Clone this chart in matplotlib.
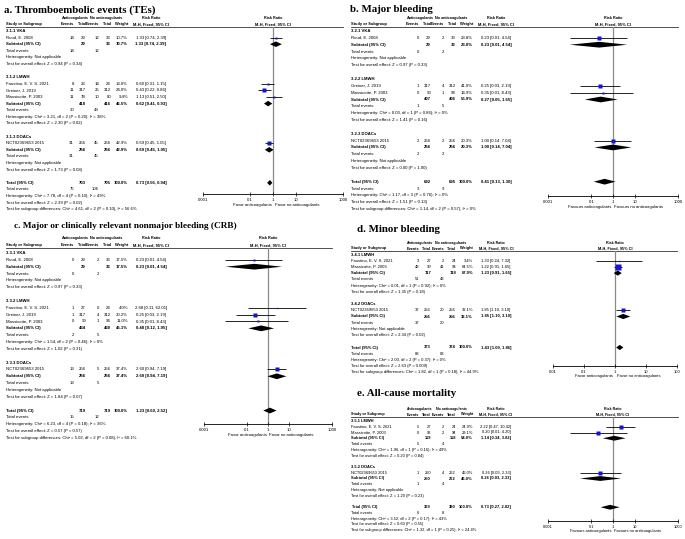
import numpy as np
import matplotlib
matplotlib.use("Agg")
import matplotlib.pyplot as plt

plt.rcParams['font.family'] = ['Liberation Sans', 'DejaVu Sans']

# ---- data: a. thromboembolic events ----
A_GROUPS = ["3.1.1 VKA", "3.1.2 LMWH", "3.1.3 DOACs"]
A_STUDIES = [
    [("Ruud, E. 2008", 14, 29, 12, 33, 10.7, 1.33, 0.74, 2.39)],
    [("Faustino, E. V. S. 2021", 8, 23, 14, 24, 13.0, 0.60, 0.31, 1.15),
     ("Greiner, J. 2019", 11, 317, 25, 312, 24.0, 0.43, 0.22, 0.86),
     ("Massicotte, P. 2003", 11, 78, 10, 80, 9.4, 1.13, 0.51, 2.50)],
    [("NCT02369653 2015", 31, 256, 45, 256, 42.9, 0.69, 0.45, 1.05)],
]
A_SUBTOTALS = [(29, 33, 10.7, 1.33, 0.74, 2.39), (418, 416, 46.5, 0.62, 0.41, 0.93),
               (256, 256, 42.9, 0.69, 0.45, 1.05)]
A_EVENTS = [(14, 12), (30, 49), (31, 45)]
A_HETERO = ["Not applicable", "Chi² = 3.21, df = 2 (P = 0.20); I² = 38%", "Not applicable"]
A_ZTEST = ["Z = 0.94 (P = 0.34)", "Z = 2.30 (P = 0.02)", "Z = 1.73 (P = 0.08)"]
A_OVERALL = (703, 705, 100.0, 0.73, 0.56, 0.94)
A_OVERALL_EVENTS = (75, 106)
A_OVERALL_TEXT = ["Chi² = 7.78, df = 4 (P = 0.10); I² = 49%", "Z = 2.39 (P = 0.02)",
                  "Chi² = 4.61, df = 2 (P = 0.10), I² = 56.6%"]

# ---- data: b. major bleeding ----
B_GROUPS = ["3.2.1 VKA", "3.2.2 LMWH", "3.2.3 DOACs"]
B_STUDIES = [
    [("Ruud, E. 2008", 0, 29, 2, 33, 23.8, 0.23, 0.01, 4.54)],
    [("Greiner, J. 2019", 1, 317, 4, 312, 41.0, 0.25, 0.03, 2.19),
     ("Massicotte, P. 2003", 0, 90, 1, 94, 14.9, 0.35, 0.01, 8.43)],
    [("NCT02369653 2015", 2, 256, 2, 256, 20.3, 1.00, 0.14, 7.04)],
]
B_SUBTOTALS = [(29, 33, 23.8, 0.23, 0.01, 4.54), (407, 406, 55.9, 0.27, 0.05, 1.65),
               (256, 256, 20.3, 1.00, 0.14, 7.04)]
B_EVENTS = [(0, 2), (1, 5), (2, 2)]
B_HETERO = ["Not applicable", "Chi² = 0.03, df = 1 (P = 0.86); I² = 0%", "Not applicable"]
B_ZTEST = ["Z = 0.97 (P = 0.33)", "Z = 1.41 (P = 0.16)", "Z = 0.00 (P = 1.00)"]
B_OVERALL = (692, 695, 100.0, 0.41, 0.13, 1.30)
B_OVERALL_EVENTS = (3, 9)
B_OVERALL_TEXT = ["Chi² = 1.17, df = 3 (P = 0.76); I² = 0%", "Z = 1.51 (P = 0.13)",
                  "Chi² = 1.14, df = 2 (P = 0.57), I² = 0%"]

# ---- data: c. CRB ----
C_GROUPS = ["3.3.1 VKA", "3.3.2 LMWH", "3.3.3 DOACs"]
C_STUDIES = [
    [("Ruud, E. 2008", 0, 29, 2, 33, 17.5, 0.23, 0.01, 4.54)],
    [("Faustino, E. V. S. 2021", 1, 27, 0, 24, 4.0, 2.68, 0.11, 62.01),
     ("Greiner, J. 2019", 1, 317, 4, 312, 30.2, 0.25, 0.03, 2.19),
     ("Massicotte, P. 2003", 0, 90, 1, 94, 11.0, 0.35, 0.01, 8.43)],
    [("NCT02369653 2015", 13, 256, 5, 256, 37.4, 2.60, 0.94, 7.19)],
]
C_SUBTOTALS = [(29, 33, 17.5, 0.23, 0.01, 4.54), (434, 430, 45.1, 0.48, 0.12, 1.95),
               (256, 256, 37.4, 2.60, 0.94, 7.19)]
C_EVENTS = [(0, 2), (2, 5), (13, 5)]
C_HETERO = ["Not applicable", "Chi² = 1.54, df = 2 (P = 0.46); I² = 0%", "Not applicable"]
C_ZTEST = ["Z = 0.97 (P = 0.33)", "Z = 1.02 (P = 0.31)", "Z = 1.84 (P = 0.07)"]
C_OVERALL = (719, 719, 100.0, 1.23, 0.60, 2.52)
C_OVERALL_EVENTS = (15, 12)
C_OVERALL_TEXT = ["Chi² = 6.23, df = 4 (P = 0.18); I² = 36%", "Z = 0.57 (P = 0.57)",
                  "Chi² = 5.02, df = 2 (P = 0.08), I² = 60.1%"]

# ---- data: d. minor bleeding ----
D_GROUPS = ["3.4.1 LMWH", "3.4.2 DOACs"]
D_STUDIES = [
    [("Faustino, E. V. S. 2021", 3, 27, 2, 24, 3.4, 1.33, 0.24, 7.32),
     ("Massicotte, P. 2003", 48, 90, 41, 94, 64.5, 1.22, 0.91, 1.65)],
    [("NCT02369653 2015", 37, 256, 20, 256, 32.1, 1.85, 1.10, 3.10)],
]
D_SUBTOTALS = [(117, 118, 67.9, 1.23, 0.91, 1.65), (256, 256, 32.1, 1.85, 1.10, 3.10)]
D_EVENTS = [(51, 43), (37, 20)]
D_HETERO = ["Chi² = 0.01, df = 1 (P = 0.92); I² = 0%", "Not applicable"]
D_ZTEST = ["Z = 1.35 (P = 0.18)", "Z = 2.34 (P = 0.02)"]
D_OVERALL = (373, 374, 100.0, 1.43, 1.09, 1.86)
D_OVERALL_EVENTS = (88, 63)
D_OVERALL_TEXT = ["Chi² = 2.00, df = 2 (P = 0.37); I² = 0%", "Z = 2.63 (P = 0.009)",
                  "Chi² = 1.82, df = 1 (P = 0.18), I² = 44.9%"]

# ---- data: e. all-cause mortality ----
E_GROUPS = ["3.5.1 LMWH", "3.5.2 DOACs"]
E_STUDIES = [
    [("Faustino, E. V. S. 2021", 5, 27, 2, 24, 24.9, 2.22, 0.47, 10.42),
     ("Massicotte, P. 2003", 0, 92, 2, 94, 29.1, 0.20, 0.01, 4.20)],
    [("NCT02369653 2015", 1, 250, 4, 262, 46.0, 0.26, 0.03, 2.33)],
]
E_SUBTOTALS = [(119, 118, 54.0, 1.14, 0.34, 3.82), (250, 262, 46.0, 0.26, 0.03, 2.33)]
E_EVENTS = [(5, 4), (1, 4)]
E_HETERO = ["Chi² = 1.96, df = 1 (P = 0.16); I² = 49%", "Not applicable"]
E_ZTEST = ["Z = 0.20 (P = 0.84)", "Z = 1.20 (P = 0.23)"]
E_OVERALL = (369, 380, 100.0, 0.73, 0.27, 2.02)
E_OVERALL_EVENTS = (6, 8)
E_OVERALL_TEXT = ["Chi² = 3.52, df = 2 (P = 0.17); I² = 43%", "Z = 0.60 (P = 0.55)",
                  "Chi² = 1.32, df = 1 (P = 0.25), I² = 24.4%"]

TICKS_WIDE = [0.001, 0.1, 1, 10, 1000]
TICKS_NARROW = [0.01, 0.1, 1, 10, 100]

W, H = 685, 539
fig = plt.figure(figsize=(6.85, 5.39), dpi=100)
bg = fig.add_axes([0, 0, 1, 1])
bg.set_xlim(0, W)
bg.set_ylim(H, 0)
bg.axis('off')

BLUE = '#1414d2'


def box(x0, x1, y0, y1):
    return [x0 / W, 1 - y1 / H, (x1 - x0) / W, (y1 - y0) / H]


def draw_panel(s, groups, studies, subtotals, events, hetero, ztest,
               overall, overall_events, overall_text):
    x0 = s['x0']
    fs = s['fs']
    # column positions inside the panel
    c_study, c_e1, c_n1, c_e2, c_n2, c_w, c_rr = x0 + 6, x0 + 74, x0 + 86, x0 + 99, x0 + 111, x0 + 128, x0 + 151
    px0, px1 = s['plot']
    pmid = (px0 + px1) / 2

    bg.text(x0 + s['title_dx'], s['title_y'], s['title'], family=['Liberation Serif'], weight='bold',
            fontsize=s['title_fs'], va='center', ha='left')

    # headers
    h1, h2 = s['hdr1_y'], s['hdr2_y']
    kw1 = dict(fontsize=fs * 0.88, va='center', weight='bold')
    kw2 = dict(fontsize=fs * 0.92, va='center', weight='bold')
    bg.text(x0 + 75, h1, "Anticoagulants", ha='center', **kw1)
    bg.text(x0 + 106, h1, "No anticoagulants", ha='center', **kw1)
    bg.text(c_rr, h1, "Risk Ratio", ha='center', **kw1)
    bg.text(pmid, h1, "Risk Ratio", ha='center', **kw1)
    bg.text(c_study, h2, "Study or Subgroup", ha='left', **kw2)
    bg.text(c_e1, h2, "Events", ha='right', **kw2)
    bg.text(c_n1, h2, "Total", ha='right', **kw2)
    bg.text(c_e2, h2, "Events", ha='right', **kw2)
    bg.text(c_n2, h2, "Total", ha='right', **kw2)
    bg.text(c_w, h2, "Weight", ha='right', **kw2)
    bg.text(c_rr, h2, "M-H, Fixed, 95% CI", ha='center', **kw2)
    bg.text(pmid, h2, "M-H, Fixed, 95% CI", ha='center', **kw2)
    bg.plot([c_study, px1], [s['line_y'], s['line_y']], color='#333333', lw=0.6)

    # forest axes
    ax = fig.add_axes(box(px0, px1, s['line_y'], s['axis_y']))
    ax.set_xscale('log')
    ax.set_xlim(s['lim'])
    ax.set_ylim(s['axis_y'], s['line_y'])
    ax.patch.set_alpha(0)
    for sp in ['top', 'left', 'right']:
        ax.spines[sp].set_visible(False)
    ax.spines['bottom'].set_linewidth(0.6)
    ax.set_yticks([])
    ax.set_xticks(s['ticks'], [f"{t:g}" for t in s['ticks']])
    ax.minorticks_off()
    ax.tick_params(axis='x', direction='inout', length=3, width=0.5, pad=1.2, labelsize=fs)
    ax.axvline(1, color='#8a8a8a', lw=0.9, zorder=1)
    hpx = s['axis_y'] - s['line_y']
    fy = -(s['fav_dy'] / hpx)
    ax.text(0.86, fy, s['fav'] + " anticoagulants", transform=ax.get_xaxis_transform(),
            ha='right', va='center', fontsize=fs)
    ax.text(1.16, fy, s['fav'] + " no anticoagulants", transform=ax.get_xaxis_transform(),
            ha='left', va='center', fontsize=fs)

    dh = s['step'] * 0.42

    def diamond(y, rr, lo, hi):
        ax.fill([lo, rr, hi, rr], [y, y - dh, y, y + dh], color='black', lw=0, zorder=3)

    def ypos(r):
        return s['row1'] + r * s['step']

    def rr_text(rr, lo, hi):
        return f"{rr:.2f} [{lo:.2f}, {hi:.2f}]"

    row = 0
    for g, name in enumerate(groups):
        bg.text(c_study, ypos(row), name, ha='left', va='center', fontsize=fs, weight='bold')
        row += 1
        for st, e1, n1, e2, n2, w, rr, lo, hi in studies[g]:
            y = ypos(row)
            bg.text(c_study, y, st, ha='left', va='center', fontsize=fs)
            bg.text(c_e1, y, str(e1), ha='right', va='center', fontsize=fs)
            bg.text(c_n1, y, str(n1), ha='right', va='center', fontsize=fs)
            bg.text(c_e2, y, str(e2), ha='right', va='center', fontsize=fs)
            bg.text(c_n2, y, str(n2), ha='right', va='center', fontsize=fs)
            bg.text(c_w, y, f"{w:.1f}%", ha='right', va='center', fontsize=fs)
            bg.text(c_rr, y, rr_text(rr, lo, hi), ha='center', va='center', fontsize=fs)
            ax.plot([lo, hi], [y, y], color='black', lw=0.6, zorder=2, solid_capstyle='butt')
            side = max(1.4, 7.0 * np.sqrt(w / 100.0))
            ax.plot([rr], [y], marker='s', ms=side * 0.72, color=BLUE, mec='none', zorder=4)
            row += 1
        n1, n2, w, rr, lo, hi = subtotals[g]
        y = ypos(row)
        bk = dict(ha='right', va='center', fontsize=fs, weight='bold')
        bg.text(c_study, y, "Subtotal (95% CI)", ha='left', va='center', fontsize=fs, weight='bold')
        bg.text(c_n1, y, str(n1), **bk)
        bg.text(c_n2, y, str(n2), **bk)
        bg.text(c_w, y, f"{w:.1f}%", **bk)
        bg.text(c_rr, y, rr_text(rr, lo, hi), ha='center', va='center', fontsize=fs, weight='bold')
        diamond(y, rr, lo, hi)
        row += 1
        y = ypos(row)
        bg.text(c_study, y, "Total events", ha='left', va='center', fontsize=fs)
        bg.text(c_e1, y, str(events[g][0]), ha='right', va='center', fontsize=fs)
        bg.text(c_e2, y, str(events[g][1]), ha='right', va='center', fontsize=fs)
        row += 1
        bg.text(c_study, ypos(row), "Heterogeneity: " + hetero[g], ha='left', va='center', fontsize=fs)
        row += 1
        bg.text(c_study, ypos(row), "Test for overall effect: " + ztest[g], ha='left', va='center', fontsize=fs)
        row += 2

    n1, n2, w, rr, lo, hi = overall
    y = ypos(row)
    bk = dict(ha='right', va='center', fontsize=fs, weight='bold')
    bg.text(c_study, y, "Total (95% CI)", ha='left', va='center', fontsize=fs, weight='bold')
    bg.text(c_n1, y, str(n1), **bk)
    bg.text(c_n2, y, str(n2), **bk)
    bg.text(c_w, y, f"{w:.1f}%", **bk)
    bg.text(c_rr, y, rr_text(rr, lo, hi), ha='center', va='center', fontsize=fs, weight='bold')
    diamond(y, rr, lo, hi)
    row += 1
    y = ypos(row)
    bg.text(c_study, y, "Total events", ha='left', va='center', fontsize=fs)
    bg.text(c_e1, y, str(overall_events[0]), ha='right', va='center', fontsize=fs)
    bg.text(c_e2, y, str(overall_events[1]), ha='right', va='center', fontsize=fs)
    row += 1
    labels = ["Heterogeneity: ", "Test for overall effect: ", "Test for subgroup differences: "]
    for lab, txt in zip(labels, overall_text):
        bg.text(c_study, ypos(row), lab + txt, ha='left', va='center', fontsize=fs)
        row += 1


SPEC_A = dict(x0=0, title="a. Thromboembolic events (TEs)", title_dx=4, title_fs=7.8, title_y=10,
              hdr1_y=18, hdr2_y=24, line_y=27, row1=31, step=6.6, plot=(203, 343), axis_y=194,
              lim=(0.001, 1000), ticks=TICKS_WIDE, fav="Favor", fav_dy=11, fs=3.1)
SPEC_B = dict(x0=345, title="b. Major bleeding", title_dx=5, title_fs=7.8, title_y=10,
              hdr1_y=18, hdr2_y=24, line_y=27, row1=31, step=6.85, plot=(548, 678), axis_y=196,
              lim=(0.001, 1000), ticks=TICKS_WIDE, fav="Favours", fav_dy=11, fs=3.1)
SPEC_C = dict(x0=0, title="c. Major or clinically relevant nonmajor bleeding (CRB)", title_dx=14,
              title_fs=6.7, title_y=226, hdr1_y=238, hdr2_y=245, line_y=248, row1=253, step=6.85,
              plot=(204, 332), axis_y=424, lim=(0.001, 1000), ticks=TICKS_WIDE, fav="Favor",
              fav_dy=11, fs=3.1)
SPEC_D = dict(x0=345, title="d. Minor bleeding", title_dx=12, title_fs=7.8, title_y=230,
              hdr1_y=243, hdr2_y=248.5, line_y=251, row1=254.5, step=6.2, plot=(553, 677),
              axis_y=366, lim=(0.01, 100), ticks=TICKS_NARROW, fav="Favor", fav_dy=10, fs=3.0)
SPEC_E = dict(x0=345, title="e. All-cause mortality", title_dx=12, title_fs=7.8, title_y=393,
              hdr1_y=409, hdr2_y=414.5, line_y=417, row1=421, step=5.75, plot=(548, 678),
              axis_y=521, lim=(0.001, 1000), ticks=TICKS_WIDE, fav="Favours", fav_dy=10, fs=2.9)

draw_panel(SPEC_A, A_GROUPS, A_STUDIES, A_SUBTOTALS, A_EVENTS, A_HETERO, A_ZTEST,
           A_OVERALL, A_OVERALL_EVENTS, A_OVERALL_TEXT)
draw_panel(SPEC_B, B_GROUPS, B_STUDIES, B_SUBTOTALS, B_EVENTS, B_HETERO, B_ZTEST,
           B_OVERALL, B_OVERALL_EVENTS, B_OVERALL_TEXT)
draw_panel(SPEC_C, C_GROUPS, C_STUDIES, C_SUBTOTALS, C_EVENTS, C_HETERO, C_ZTEST,
           C_OVERALL, C_OVERALL_EVENTS, C_OVERALL_TEXT)
draw_panel(SPEC_D, D_GROUPS, D_STUDIES, D_SUBTOTALS, D_EVENTS, D_HETERO, D_ZTEST,
           D_OVERALL, D_OVERALL_EVENTS, D_OVERALL_TEXT)
draw_panel(SPEC_E, E_GROUPS, E_STUDIES, E_SUBTOTALS, E_EVENTS, E_HETERO, E_ZTEST,
           E_OVERALL, E_OVERALL_EVENTS, E_OVERALL_TEXT)

fig.savefig('out.png', dpi=100)
